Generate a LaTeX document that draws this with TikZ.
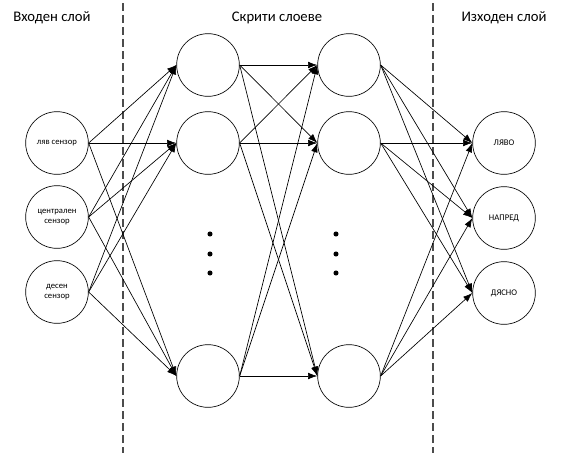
\documentclass[tikz,border=0pt]{standalone}
\usepackage{fontspec}
\setmainfont{Carlito}
\usetikzlibrary{arrows.meta, positioning}

\begin{document}
\begin{tikzpicture}[x=0.75pt, y=-0.75pt,
    neuron/.style={draw, circle, minimum size=47pt, inner sep=0pt, line width=0.5pt, font=\fontsize{6.5}{8}\selectfont, align=center},
    syn/.style={-{Latex[length=7pt,width=5pt]}, line width=0.5pt},
    layer/.style={font=\fontsize{11}{13}\selectfont},
    sep/.style={draw=gray!60!black, dash pattern=on 6pt off 3pt, line width=0.8pt}]
    \useasboundingbox (0,0) rectangle (561,457);

    % headings
    \node[layer] (hin) at (52,18) {Входен слой};
    \node[layer] (hhid) at (277,18) {Скрити слоеве};
    \node[layer] (hout) at (504,18) {Изходен слой};

    % separators
    \coordinate (s1t) at (123,3);
    \coordinate (s1b) at (123,453);
    \coordinate (s2t) at (433,3);
    \coordinate (s2b) at (433,453);
    \draw[sep] (s1t) -- (s1b);
    \draw[sep] (s2t) -- (s2b);

    % input layer
    \node[neuron] (in1) at (57,143) {ляв сензор};
    \node[neuron] (in2) at (57,217) {централен\\сензор};
    \node[neuron] (in3) at (57,292) {десен\\сензор};

    % hidden layers
    \foreach \n/\y in {1/65, 2/143, 3/376}
    {
        \node[neuron] (a\n) at (208,\y) {};
        \node[neuron] (b\n) at (349,\y) {};
    }

    % output layer
    \node[neuron] (out1) at (504,143) {ЛЯВО};
    \node[neuron] (out2) at (504,218) {НАПРЕД};
    \node[neuron] (out3) at (504,293) {ДЯСНО};

    % connections
    \foreach \s in {1,2,3}
    {
        \foreach \t in {1,2,3}
        {
            \draw[syn] (in\s.east) -- (a\t.west);
            \draw[syn] (a\s.east) -- (b\t.west);
            \draw[syn] (b\s.east) -- (out\t.west);
        }
    }

    % ellipsis dots
    \foreach \y in {234,254,273}
    {
        \fill (210,\y) circle (1.9pt);
        \fill (336,\y) circle (1.9pt);
    }
\end{tikzpicture}
\end{document}
